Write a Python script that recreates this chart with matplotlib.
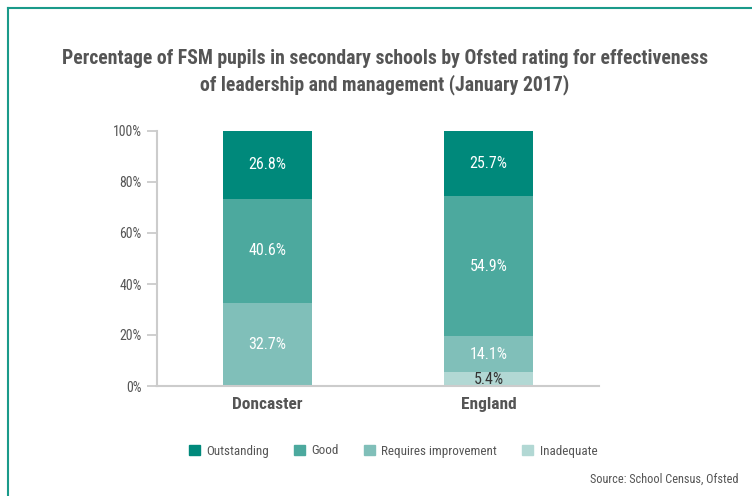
import numpy as np
import matplotlib.pyplot as plt
from matplotlib.lines import Line2D
from matplotlib.patches import Patch

# datos del grafico
areas = ["Doncaster", "England"]
ratings = ["Outstanding", "Good", "Requires improvement", "Inadequate"]
outstanding = [26.8, 25.7]
good = [40.6, 54.9]
requires = [32.7, 14.1]
inadequate = [0.0, 5.4]
yticks = [0, 20, 40, 60, 80, 100]

colors = ["#00897b", "#4ca99e", "#80bfb9", "#b2d8d4"]
plt.rcParams["font.family"] = ["Roboto Condensed", "DejaVu Sans"]

fig = plt.figure(figsize=(7.52, 4.96), dpi=100)
ax = fig.add_axes([157/752, 110/496, 442/752, 255/496])

x = np.arange(len(areas))
series = [inadequate, requires, good, outstanding]
sercol = colors[::-1]
bottom = np.zeros(len(areas))
# barras apiladas con sus etiquetas
for vals, col in zip(series, sercol):
    vals = np.array(vals)
    ax.bar(x, vals, 0.4, bottom=bottom, color=col)
    for i in range(len(areas)):
        if vals[i] > 0:
            tc = "#333333" if col == colors[3] else "white"
            ax.text(x[i], bottom[i] + vals[i]/2, "%.1f%%" % vals[i],
                    ha="center", va="center", color=tc, fontsize=11.5)
    bottom = bottom + vals

ax.set_xlim(-0.5, 1.5)
ax.set_ylim(0, 100)
ax.set_yticks(yticks)
ax.set_yticklabels(["%d%%" % t for t in yticks], color="#555555", fontsize=10)
ax.set_xticks(x)
ax.set_xticklabels(areas, fontsize=12.5, fontweight="bold", color="#555555")
ax.tick_params(axis="y", length=7, color="#cccccc", width=1.3, pad=4)
ax.tick_params(axis="x", length=0, pad=8)
for s in ["top", "right"]:
    ax.spines[s].set_visible(False)
for s in ["left", "bottom"]:
    ax.spines[s].set_color("#cccccc")
    ax.spines[s].set_linewidth(1.5)

fig.text(385/752, 1 - 72/496,
         "Percentage of FSM pupils in secondary schools by Ofsted rating for effectiveness\n"
         "of leadership and management (January 2017)",
         ha="center", va="center", fontsize=14.2, fontweight="bold",
         color="#555555", linespacing=1.45)

handles = [Patch(color=c) for c in colors]
leg = fig.legend(handles, ratings, loc="center", bbox_to_anchor=(393/752, 1 - 451/496),
                 ncol=4, frameon=False, fontsize=9.4, handlelength=0.85, handleheight=0.85,
                 columnspacing=1.9, handletextpad=0.5)
for t in leg.get_texts():
    t.set_color("#555555")

fig.text(738/752, 1 - 479/496, "Source: School Census, Ofsted", ha="right", va="center",
         fontsize=8.8, color="#555555")

# marco
fig.add_artist(Line2D([8/752, 8/752], [0, 1 - 8/496], color="#1a9a8a", lw=1.5))
fig.add_artist(Line2D([8/752, 1], [1 - 8/496, 1 - 8/496], color="#1a9a8a", lw=1.5))

fig.savefig("out.png", dpi=100)
